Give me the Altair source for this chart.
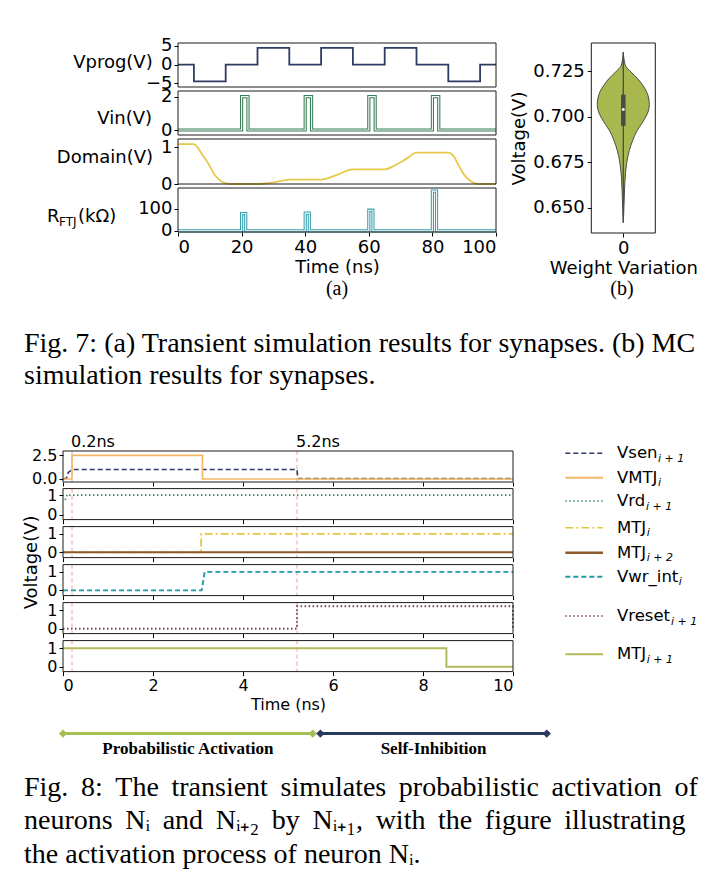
import altair as alt
import pandas as pd

SANS = "DejaVu Sans"
SERIF = "Liberation Serif"
INK = "#000000"
FRAME = "#1a1a1a"

# ---------------- Fig. 7(a): transient synapse waveforms ----------------
vprog_t = [0, 5, 15, 25, 35, 45, 55, 65, 75, 85, 95, 100]
vprog_v = [0, -4.5, 0, 4.5, 0, 4.5, 0, 4.5, 0, -4.5, 0, 0]
vin_t = [0, 20, 22, 40, 42, 60, 62, 80, 82, 100]
vin_v = [0, 2, 0, 2, 0, 2, 0, 2, 0, 0]
dom_t = [0, 5, 7.5, 9.6, 11.7, 13.8, 16.5, 25, 28, 31, 35, 45, 50, 55, 65, 68, 72, 75,
         85, 86.5, 88, 90, 92.2, 94.3, 100]
dom_v = [1.09, 1.09, 0.82, 0.55, 0.23, 0.06, 0.0, 0.0, 0.02, 0.06, 0.12, 0.12, 0.25, 0.40,
         0.40, 0.50, 0.70, 0.855, 0.855, 0.78, 0.55, 0.25, 0.07, 0.0, 0.0]
rftj_t = [0, 20, 21.3, 40, 41.3, 60, 61.3, 80, 81.3, 100]
rftj_v = [0, 78, 0, 80, 0, 93, 0, 179, 0, 0]
top_time_ticks = [0, 20, 40, 60, 80, 100]

# ---------------- Fig. 7(b): MC violin ----------------
vio_v = [0.6419, 0.6455, 0.6563, 0.6653, 0.6743, 0.6815, 0.6869, 0.6923, 0.6959, 0.6995,
         0.7031, 0.7067, 0.7103, 0.7138, 0.7174, 0.7210, 0.7246, 0.7282, 0.7354]
vio_hw = [0, 0.3, 1.0, 1.7, 3.3, 6, 9.3, 13.7, 18, 22, 25, 26, 25.3, 23.3, 19.3, 14.3, 7.7, 2, 0]
box_lo = [0.6419]
box_q1 = [0.6950]
box_med = [0.7040]
box_q3 = [0.7122]
box_hi = [0.7354]
vio_ticks = [0.650, 0.675, 0.700, 0.725]

# ---------------- Fig. 8: neuron transient ----------------
series_names = ["Vsenᵢ₊₁", "VMTJᵢ", "Vrdᵢ₊₁", "MTJᵢ", "MTJᵢ₊₂", "Vwr_intᵢ", "Vresetᵢ₊₁", "MTJᵢ₊₁"]
legend_main = ["Vsen", "VMTJ", "Vrd", "MTJ", "MTJ", "Vwr_int", "Vreset", "MTJ"]
legend_sub = ["i + 1", "i", "i + 1", "i", "i + 2", "i", "i + 1", "i + 1"]
series_t = {
    "Vsenᵢ₊₁": [0, 0.08, 0.12, 0.2, 5.2, 5.22, 10],
    "VMTJᵢ": [0, 0.2, 0.2, 3.1, 3.1, 10],
    "Vrdᵢ₊₁": [0.05, 0.1, 0.15, 10],
    "MTJᵢ": [0, 3.07, 3.07, 10],
    "MTJᵢ₊₂": [0, 10],
    "Vwr_intᵢ": [0, 3.08, 3.15, 10],
    "Vresetᵢ₊₁": [0, 5.2, 5.2, 10, 10],
    "MTJᵢ₊₁": [0, 8.52, 8.52, 10],
}
series_v = {
    "Vsenᵢ₊₁": [0, 0.1, 0.7, 1.0, 1.0, 0.05, 0.05],
    "VMTJᵢ": [0, 0, 2.5, 2.5, 0, 0],
    "Vrdᵢ₊₁": [0.75, 1.05, 1.0, 1.0],
    "MTJᵢ": [0, 0, 1, 1],
    "MTJᵢ₊₂": [0, 0],
    "Vwr_intᵢ": [0, 0, 1, 1],
    "Vresetᵢ₊₁": [0, 0, 1.2, 1.2, 0],
    "MTJᵢ₊₁": [1, 1, 0, 0],
}
marker_t = [0.2, 5.2]
marker_labels = ["0.2ns", "5.2ns"]
bottom_time_ticks = [0, 2, 4, 6, 8, 10]

phase_names = ["Probabilistic Activation", "Self-Inhibition"]
phase_start = [0.0, 5.72]
phase_end = [5.55, 10.75]

cap7_lines = ["Fig. 7: (a) Transient simulation results for synapses. (b) MC",
              "simulation results for synapses."]
cap8_lines = ["Fig. 8: The transient simulates probabilistic activation of",
              "neurons Nᵢ and Nᵢ₊₂ by Nᵢ₊₁, with the figure illustrating",
              "the activation process of neuron Nᵢ."]
cap8_justify = [True, True, False]

# ---------------- styles / layout constants ----------------
series_colors = ["#2f3b63", "#f2b766", "#3e8a5c", "#e3c53a", "#8c5a2e", "#1d9aa3", "#7d3c6a", "#b5bb5a"]
series_dash = [[5, 3], [1, 0], [1.5, 2.5], [8, 3, 2, 3], [1, 0], [5, 3], [1.5, 2.5], [1, 0]]
series_width = [1.6, 2.0, 1.6, 1.6, 2.6, 2.0, 1.6, 2.0]
phase_colors = ["#a6bf55", "#2b3a5f"]

COL_W = 450                 # bottom panels width (column origin = bottom panel left edge)
TOP_X0, TOP_X1 = 115, 433   # top-left panels inside the column
VX0, VX1, VH = 528.3, 592.3, 190   # violin plot box
LEG_ROWS = [221.3, 245.7, 269, 295.7, 320.7, 344.7, 384, 422.3]   # relative to first bottom chart
LEG_X0, LEG_X1, LEG_TX = 502.3, 540, 554
LEG_FS, LEG_SUB_FS = 16.5, 11
# DejaVu Sans advance widths (em) used to place legend subscripts after the main text
DJV = {"V": .684, "s": .521, "e": .615, "n": .634, "M": .863, "T": .611, "J": .295,
       "r": .411, "d": .635, "w": .818, "_": .500, "i": .278, "t": .392}

color_scale = alt.Scale(domain=series_names, range=series_colors)
dash_scale = alt.Scale(domain=series_names, range=series_dash)
width_scale = alt.Scale(domain=series_names, range=series_width)
ONE = pd.DataFrame({"a": [0]})


def txt(s, x, y, size, align="left", font=SANS, weight="normal", angle=0, baseline="middle"):
    return alt.Chart(pd.DataFrame({"s": [s]})).mark_text(
        font=font, fontSize=size, align=align, baseline=baseline, color=INK,
        fontWeight=weight, angle=angle
    ).encode(text="s:N", x=alt.value(x), y=alt.value(y))


def frame(x0, x1, y0, y1):
    return alt.Chart(ONE).mark_rect(fillOpacity=0, stroke=FRAME, strokeWidth=1).encode(
        x=alt.value(x0), x2=alt.value(x1), y=alt.value(y0), y2=alt.value(y1))


# ---------------- top-left panels ----------------
def top_layers(t, v, color, ydom, yticks, gap, h, interp, labels, last=False, double=False):
    H = gap + h
    df = pd.DataFrame({"t": t, "v": v})
    if last:
        xax = alt.Axis(values=top_time_ticks, title="Time (ns)", labelFontSize=18, titleFontSize=18,
                       tickSize=4, labelPadding=2, titlePadding=2)
    else:
        xax = None
    x = alt.X("t:Q", scale=alt.Scale(domain=[0, 100], nice=False, range=[TOP_X0, TOP_X1]), axis=xax)
    y = alt.Y("v:Q", scale=alt.Scale(domain=ydom, nice=False, zero=False, range=[H, gap]),
              axis=alt.Axis(values=yticks, title=None, labelFontSize=18, tickSize=4,
                            labelPadding=2, format="d", orient="left", offset=-TOP_X0))
    base = alt.Chart(df).encode(x=x, y=y)
    layers = []
    if double:
        layers.append(base.mark_line(interpolate=interp, color=color, strokeWidth=3.2))
        layers.append(base.mark_line(interpolate=interp, color="#f4faf8", strokeWidth=1.1))
    else:
        layers.append(base.mark_line(interpolate=interp, color=color, strokeWidth=1.8))
    for lab in labels:
        layers.append(txt(*lab))
    layers.append(frame(TOP_X0, TOP_X1, gap, H))
    return alt.layer(*layers), H


vprog_l, H_a = top_layers(vprog_t, vprog_v, "#2f3b63", [-6, 5.8], [-5, 0, 5], 0, 44, "step-after",
                          [("Vprog(V)", 89.7, 19.7, 18, "right")])
p_vin, H_b = top_layers(vin_t, vin_v, "#3b7d57", [-0.3, 2.34], [0, 2], 4, 44, "step-after",
                        [("Vin(V)", 89, 32.3, 18, "right")], double=True)
p_dom, H_c = top_layers(dom_t, dom_v, "#e6c84a", [0, 1.23], [0, 1], 4, 45, "monotone",
                        [("Domain(V)", 90, 22.7, 18, "right")])
p_rftj, H_d = top_layers(rftj_t, rftj_v, "#3aa0b0", [-5, 193], [0, 100], 4, 44, "step-after",
                         [("R", -16, 33, 18, "left"), ("FTJ", -4, 38, 12, "left"),
                          ("(kΩ)", 15, 33, 18, "left")], last=True, double=True)

# ---------------- violin (drawn in the first row's group) ----------------
vdf = pd.DataFrame({"v": vio_v, "hw": vio_hw})
vxs = alt.Scale(domain=[-32, 32], nice=False, range=[VX0, VX1])
vys = alt.Scale(domain=[0.6362, 0.7405], nice=False, zero=False, range=[VH, 0])
vxa = alt.Axis(values=[0], format="d", title="Weight Variation", labelFontSize=18, titleFontSize=18,
               tickSize=4, labelPadding=2, titlePadding=2, orient="bottom", offset=VH - 44)
vya = alt.Axis(values=vio_ticks, format=".3f", title="Voltage(V)", labelFontSize=18,
               titleFontSize=18, tickSize=4, labelPadding=3, titlePadding=4, orient="left",
               offset=-VX0)
vio_area = alt.Chart(vdf).transform_calculate(neg="-datum.hw").mark_area(
    orient="horizontal", interpolate="monotone", color="#a8b84e", stroke="#4a4a4a", strokeWidth=1
).encode(y=alt.Y("v:Q", scale=vys, axis=vya), x=alt.X("hw:Q", scale=vxs, axis=vxa), x2="neg:Q")
bdf = pd.DataFrame({"c": [0], "lo": box_lo, "q1": box_q1, "med": box_med, "q3": box_q3, "hi": box_hi})
vio_whisk = alt.Chart(bdf).mark_rule(color="#4a4a4a", strokeWidth=1.3).encode(
    x=alt.X("c:Q", scale=vxs, axis=vxa), y=alt.Y("lo:Q", scale=vys, axis=vya), y2="hi:Q")
vio_box = alt.Chart(bdf).mark_rule(color="#4a4a4a", strokeWidth=4.5).encode(
    x=alt.X("c:Q", scale=vxs, axis=vxa), y=alt.Y("q1:Q", scale=vys, axis=vya), y2="q3:Q")
vio_med = alt.Chart(bdf).mark_point(filled=True, color="white", size=8, opacity=1).encode(
    x=alt.X("c:Q", scale=vxs, axis=vxa), y=alt.Y("med:Q", scale=vys, axis=vya))
violin_l = alt.layer(vio_area, vio_whisk, vio_box, vio_med, frame(VX0, VX1, 0, VH))

row_a = alt.layer(vprog_l, violin_l).resolve_scale(x="independent", y="independent").properties(
    width=COL_W, height=H_a)
row_b = p_vin.properties(width=COL_W, height=H_b)
row_c = p_dom.properties(width=COL_W, height=H_c)
row_d = p_rftj.properties(width=COL_W, height=H_d)

# ---------------- bottom panels ----------------
rows = []
for name in series_names:
    for i, (tt, vv) in enumerate(zip(series_t[name], series_v[name])):
        rows.append({"series": name, "i": i, "t": tt, "v": vv})
bdf_all = pd.DataFrame(rows)
mdf = pd.DataFrame({"t": marker_t, "lab": marker_labels})
pdf = pd.DataFrame({"phase": phase_names, "start": phase_start, "end": phase_end})


def bottom_panel(names, ydom, yticks, fmt, gap, h=31, last=False, extra=None):
    H = gap + h
    if last:
        xax = alt.Axis(values=bottom_time_ticks, title="Time (ns)", labelFontSize=16,
                       titleFontSize=16, tickSize=4, labelPadding=2, titlePadding=3)
    else:
        xax = alt.Axis(values=bottom_time_ticks, title=None, labels=False, tickSize=4)
    xs = alt.Scale(domain=[0, 10], nice=False, range=[0, COL_W])
    x = alt.X("t:Q", scale=xs, axis=xax)
    y = alt.Y("v:Q", scale=alt.Scale(domain=ydom, nice=False, zero=False, range=[H, gap]),
              axis=alt.Axis(values=yticks, format=fmt, title=None, labelFontSize=16,
                            tickSize=4, labelPadding=2))
    vlines = alt.Chart(mdf).mark_rule(color="#f2a0a0", strokeDash=[4, 3], strokeWidth=1).encode(
        x=x, y=alt.value(gap), y2=alt.value(H))
    lines = alt.Chart(bdf_all).transform_filter(
        alt.FieldOneOfPredicate(field="series", oneOf=names)
    ).mark_line().encode(
        x=x, y=y, order="i:Q",
        color=alt.Color("series:N", scale=color_scale, legend=None),
        strokeDash=alt.StrokeDash("series:N", scale=dash_scale, legend=None),
        strokeWidth=alt.StrokeWidth("series:N", scale=width_scale, legend=None),
    )
    layers = [vlines, lines]
    if extra:
        layers += extra(xs, xax, gap, H)
    layers.append(frame(0, COL_W, gap, H))
    return alt.layer(*layers).properties(width=COL_W, height=H)


def b1_extra(xs, xax, gap, H):
    out = [alt.Chart(mdf).mark_text(font=SANS, fontSize=16, align="left", baseline="middle",
                                    dx=-1, color=INK).encode(
        x=alt.X("t:Q", scale=xs, axis=xax), y=alt.value(gap - 9), text="lab:N")]
    # Fig. 7 captions in the space above the first bottom panel
    out += [txt("(a)", 274, 57, 20, "center", SERIF),
            txt("(b)", 559, 57, 20, "center", SERIF),
            txt(cap7_lines[0], -39, 112, 28, "left", SERIF),
            txt(cap7_lines[1], -39, 144, 28, "left", SERIF)]
    # legend: line sample, main text and a smaller, lowered subscript
    ldf = pd.DataFrame({"main": legend_main, "sub": legend_sub})
    for k in range(len(series_names)):
        sel = alt.Chart(ldf).transform_filter(alt.datum.main == legend_main[k]).transform_filter(
            alt.datum.sub == legend_sub[k])
        out.append(sel.mark_rule(color=series_colors[k], strokeDash=series_dash[k],
                                 strokeWidth=series_width[k]).encode(
            x=alt.value(LEG_X0), x2=alt.value(LEG_X1), y=alt.value(LEG_ROWS[k])))
        out.append(sel.mark_text(font=SANS, fontSize=LEG_FS, align="left", baseline="middle",
                                 color=INK).encode(
            x=alt.value(LEG_TX), y=alt.value(LEG_ROWS[k]), text="main:N"))
        wmain = sum(DJV.get(ch, 0.6) for ch in legend_main[k]) * LEG_FS
        out.append(sel.mark_text(font=SANS, fontSize=LEG_SUB_FS, align="left", baseline="middle",
                                 fontStyle="italic", color=INK).encode(
            x=alt.value(LEG_TX + wmain + 0.5), y=alt.value(LEG_ROWS[k] + 5.5), text="sub:N"))
    return out


def b3_extra(xs, xax, gap, H):
    return [txt("Voltage(V)", -31, 42.4, 18, "center", angle=270)]


def b6_extra(xs, xax, gap, H):
    out = []
    bar_y = H + 62
    for k, name in enumerate(phase_names):
        sel = alt.Chart(pdf).transform_filter(alt.datum.phase == name)
        out.append(sel.mark_rule(strokeWidth=3, color=phase_colors[k]).encode(
            x=alt.X("start:Q", scale=xs, axis=xax), x2="end:Q", y=alt.value(bar_y)))
        out.append(sel.transform_fold(["start", "end"], as_=["k", "tv"]).mark_point(
            shape="diamond", filled=True, size=70, opacity=1, color=phase_colors[k]).encode(
            x=alt.X("tv:Q", scale=xs, axis=xax), y=alt.value(bar_y)))
    out.append(alt.Chart(pdf).transform_calculate(mid="(datum.start + datum.end) / 2").mark_text(
        font=SERIF, fontWeight="bold", fontSize=17, baseline="middle", color=INK).encode(
        x=alt.X("mid:Q", scale=xs, axis=xax), y=alt.value(bar_y + 15), text="phase:N"))
    for j, line in enumerate(cap8_lines):
        # the reference caption is justified: widen word gaps with a thin space
        shown = line.replace(" ", " \u2009") if cap8_justify[j] else line
        out.append(txt(shown, -39, H + 116 + 33.5 * j, 28, "left", SERIF))
    return out


GAP_MID = 219
GAP_B = 6.6
b1 = bottom_panel(["VMTJᵢ", "Vsenᵢ₊₁"], [-0.32, 2.96], [0, 2.5], ".1f", GAP_MID, extra=b1_extra)
b2 = bottom_panel(["Vrdᵢ₊₁"], [-0.25, 1.33], [0, 1], "d", GAP_B)
b3 = bottom_panel(["MTJᵢ₊₂", "MTJᵢ"], [-0.29, 1.4], [0, 1], "d", GAP_B, extra=b3_extra)
b4 = bottom_panel(["Vwr_intᵢ"], [-0.28, 1.39], [0, 1], "d", GAP_B)
b5 = bottom_panel(["Vresetᵢ₊₁"], [-0.26, 1.4], [0, 1], "d", GAP_B)
b6 = bottom_panel(["MTJᵢ₊₁"], [-0.27, 1.42], [0, 1], "d", GAP_B, last=True, extra=b6_extra)

chart = alt.vconcat(row_a, row_b, row_c, row_d, b1, b2, b3, b4, b5, b6,
                    spacing=0, bounds="flush").properties(
    padding={"left": 14, "top": 28, "right": 5, "bottom": 5}, background="white"
).configure_view(stroke="transparent").configure_axis(
    domain=False, grid=False, labelFont=SANS, titleFont=SANS, labelColor=INK,
    titleColor=INK, tickColor=INK, titleFontWeight="normal"
)

chart.save("out.html", embed_options={"renderer": "svg", "actions": False})
